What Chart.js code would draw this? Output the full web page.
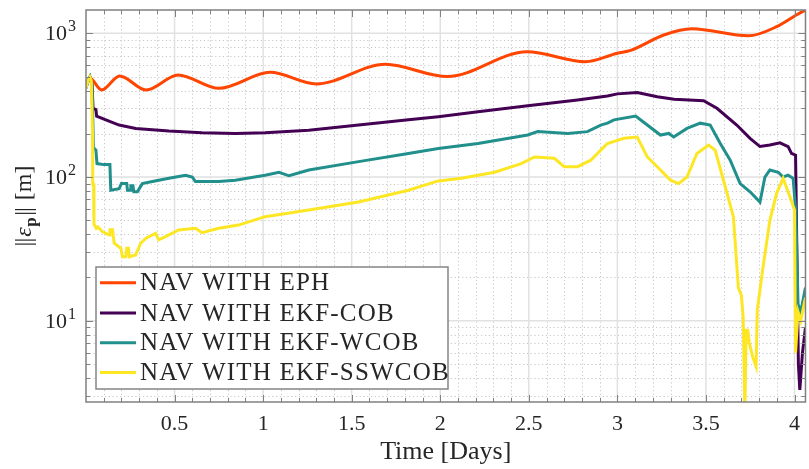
<!DOCTYPE html>
<html>
<head>
<meta charset="utf-8">
<script src="https://cdn.jsdelivr.net/npm/chart.js@4.4.1/dist/chart.umd.min.js"></script>
<style>
  html, body { margin: 0; padding: 0; background: #ffffff; }
  canvas { display: block; }
</style>
</head>
<body>
<canvas id="c" width="809" height="469"></canvas>
<script>
// Position error norm of the navigation solutions over time
const seriesNames = ['NAV WITH EPH', 'NAV WITH EKF-COB', 'NAV WITH EKF-WCOB', 'NAV WITH EKF-SSWCOB'];
const seriesColors = ['#ff4500', '#440154', '#21908c', '#fde725'];

// Time [days] / error [m] for the ephemeris-only solution
const ephT = [0, 0.02, 0.088, 0.19, 0.34, 0.52, 0.75, 1.04, 1.30, 1.69, 2.04, 2.49, 2.82, 3.0, 3.075, 3.262, 3.42, 3.74, 3.899, 4.01, 4.062];
const ephV = [425, 490, 403, 505, 403, 513, 414, 535, 444, 608, 500, 745, 634, 727, 760, 973, 1075, 960, 1112, 1341, 1452];

// EKF with COB measurements
const cobT = [0, 0.012, 0.022, 0.034, 0.04, 0.056, 0.06, 0.112, 0.187, 0.281, 0.468, 0.655, 0.843, 1.011, 1.258, 1.539, 1.82, 1.989, 2.213, 2.494, 2.775, 2.944, 3.0, 3.112, 3.225, 3.32, 3.487, 3.562, 3.674, 3.749, 3.805, 3.861, 3.918, 3.964, 3.983, 4.006, 4.012, 4.022, 4.03, 4.045, 4.062];
const cobV = [416, 470, 497, 440, 300, 295, 265, 250, 230, 218, 209, 203, 201, 203, 212, 230, 250, 263, 285, 313, 344, 366, 379, 387, 362, 348, 340, 301, 230, 186, 163, 167, 173, 163, 146, 142, 40, 5, 3.3, 6, 9];

// EKF with weighted COB measurements
const wcobT = [0, 0.012, 0.022, 0.034, 0.042, 0.056, 0.062, 0.1, 0.135, 0.14, 0.187, 0.2, 0.23, 0.234, 0.25, 0.253, 0.265, 0.27, 0.29, 0.318, 0.375, 0.468, 0.562, 0.6, 0.618, 0.749, 0.843, 1.011, 1.09, 1.146, 1.258, 1.539, 1.82, 1.989, 2.213, 2.494, 2.55, 2.72, 2.831, 2.906, 2.944, 2.981, 3.103, 3.169, 3.243, 3.29, 3.318, 3.393, 3.468, 3.524, 3.581, 3.637, 3.693, 3.749, 3.805, 3.833, 3.861, 3.908, 3.936, 3.964, 3.992, 4.007, 4.02, 4.035, 4.062];
const wcobV = [416, 470, 497, 440, 160, 154, 124, 122, 122, 81, 83, 90, 90, 81, 81, 87, 87, 79, 79, 90, 93, 98, 103, 100, 93, 93, 95, 103, 108, 102, 112, 128, 146, 158, 171, 196, 207, 201, 207, 230, 237, 250, 266, 230, 196, 201, 190, 218, 237, 230, 171, 131, 90, 79, 67, 100, 112, 108, 100, 103, 98, 59, 13, 11.5, 17];

// EKF with sun-synchronous weighted COB measurements
const sswcobT = [0, 0.012, 0.022, 0.03, 0.037, 0.038, 0.043, 0.045, 0.058, 0.066, 0.094, 0.131, 0.135, 0.15, 0.159, 0.197, 0.206, 0.225, 0.23, 0.24, 0.245, 0.28, 0.309, 0.337, 0.393, 0.41, 0.449, 0.524, 0.618, 0.655, 0.749, 0.861, 1.011, 1.258, 1.539, 1.82, 1.989, 2.12, 2.307, 2.457, 2.532, 2.644, 2.7, 2.775, 2.85, 2.906, 2.944, 3.037, 3.112, 3.169, 3.225, 3.262, 3.3, 3.346, 3.393, 3.449, 3.515, 3.552, 3.599, 3.655, 3.683, 3.70, 3.71, 3.72, 3.727, 3.736, 3.745, 3.764, 3.783, 3.79, 3.82, 3.861, 3.899, 3.936, 3.974, 4.0, 4.006, 4.02, 4.035, 4.062];
const sswcobV = [416, 470, 497, 470, 200, 89, 89, 47, 44, 45, 41.6, 39.5, 43, 43, 34.6, 31.9, 27.9, 27.9, 31.9, 31.9, 27.9, 28.7, 34.6, 37.4, 40.6, 36.6, 38.5, 42.8, 44, 41, 44, 46.3, 53, 59, 67, 81, 94, 98, 108, 124, 138, 135, 118, 118, 131, 154, 171, 186, 190, 138, 118, 106, 95, 90, 100, 146, 167, 154, 95, 53, 17, 15, 10.7, 2.3, 8.6, 8.6, 7, 5.6, 4.8, 11.9, 22.5, 50, 77, 98, 73, 59, 6, 11.5, 10, 14.5];

// Axis limits and labelled ticks
const xMin = 0, xMax = 4.062;
const yMin = 2.72, yMax = 1453;
const xLabelTicks = [0.5, 1, 1.5, 2, 2.5, 3, 3.5, 4];
const yLabelExps = [1, 2, 3];

const FONT = '"Liberation Serif", "Times New Roman", serif';
const TEXT = '#262626';

const toPoints = (t, v) => t.map((ti, i) => ({ x: ti, y: v[i] }));
const seriesData = [toPoints(ephT, ephV), toPoints(cobT, cobV), toPoints(wcobT, wcobV), toPoints(sswcobT, sswcobV)];

// MATLAB-like frame: grid, inward ticks, box, y labels, y title and legend
const matlabFrame = {
  id: 'matlabFrame',
  beforeDatasetsDraw(chart) {
    const { ctx, chartArea: a, scales: { x, y } } = chart;
    ctx.save();
    // minor dotted grid
    ctx.strokeStyle = '#c8c8c8';
    ctx.lineWidth = 1;
    ctx.setLineDash([1.2, 2.6]);
    for (let k = 1; k * 0.1 < xMax; k++) {
      if (k % 5 === 0) continue;
      const px = Math.round(x.getPixelForValue(k * 0.1)) + 0.5;
      ctx.beginPath(); ctx.moveTo(px, a.top); ctx.lineTo(px, a.bottom); ctx.stroke();
    }
    for (let d = 0; d <= 3; d++) {
      for (let m = 2; m <= 9; m++) {
        const v = m * Math.pow(10, d);
        if (v <= yMin || v >= yMax) continue;
        const py = Math.round(y.getPixelForValue(v)) + 0.5;
        ctx.beginPath(); ctx.moveTo(a.left, py); ctx.lineTo(a.right, py); ctx.stroke();
      }
    }
    // major solid grid
    ctx.setLineDash([]);
    ctx.strokeStyle = '#e1e1e1';
    ctx.lineWidth = 1.5;
    xLabelTicks.forEach(v => {
      const px = x.getPixelForValue(v);
      ctx.beginPath(); ctx.moveTo(px, a.top); ctx.lineTo(px, a.bottom); ctx.stroke();
    });
    yLabelExps.forEach(e => {
      const py = y.getPixelForValue(Math.pow(10, e));
      ctx.beginPath(); ctx.moveTo(a.left, py); ctx.lineTo(a.right, py); ctx.stroke();
    });
    ctx.restore();
  },
  afterDatasetsDraw(chart) {
    const { ctx, chartArea: a, scales: { x, y } } = chart;
    ctx.save();
    ctx.strokeStyle = '#808080';
    ctx.lineWidth = 1.5;
    // box
    ctx.strokeRect(a.left, a.top, a.right - a.left, a.bottom - a.top);
    // inward ticks on x (bottom and top)
    ctx.lineWidth = 1;
    for (let k = 1; k * 0.1 < xMax; k++) {
      const len = (k % 5 === 0) ? 7 : 4;
      const px = Math.round(x.getPixelForValue(k * 0.1)) + 0.5;
      ctx.beginPath();
      ctx.moveTo(px, a.bottom); ctx.lineTo(px, a.bottom - len);
      ctx.moveTo(px, a.top); ctx.lineTo(px, a.top + len);
      ctx.stroke();
    }
    // inward ticks on y (left and right)
    for (let d = 0; d <= 3; d++) {
      for (let m = 1; m <= 9; m++) {
        const v = m * Math.pow(10, d);
        if (v <= yMin || v >= yMax) continue;
        const len = (m === 1) ? 7 : 4;
        const py = Math.round(y.getPixelForValue(v)) + 0.5;
        ctx.beginPath();
        ctx.moveTo(a.left, py); ctx.lineTo(a.left + len, py);
        ctx.moveTo(a.right, py); ctx.lineTo(a.right - len, py);
        ctx.stroke();
      }
    }
    ctx.restore();
  },
  afterDraw(chart) {
    const { ctx, chartArea: a, scales: { y } } = chart;
    ctx.save();
    ctx.fillStyle = TEXT;
    // y tick labels as powers of ten
    yLabelExps.forEach(e => {
      const py = y.getPixelForValue(Math.pow(10, e));
      ctx.font = '22px ' + FONT;
      ctx.textAlign = 'right';
      ctx.textBaseline = 'alphabetic';
      ctx.fillText('10', 67, py + 7);
      ctx.font = '16px ' + FONT;
      ctx.textAlign = 'left';
      ctx.fillText(String(e), 68, py - 2);
    });

    // y axis title ||ε_p|| [m], rotated
    ctx.save();
    const cy = (a.top + a.bottom) / 2;
    ctx.translate(31, cy);
    ctx.rotate(-Math.PI / 2);
    ctx.textAlign = 'left';
    ctx.textBaseline = 'alphabetic';
    const parts = [
      { t: '|', f: '24px ' + FONT, dy: 0, gap: -1 },
      { t: '|', f: '24px ' + FONT, dy: 0, gap: 1 },
      { t: 'ε', f: 'italic 24px ' + FONT, dy: 0, gap: 0.5 },
      { t: 'p', f: 'bold 17px ' + FONT, dy: 5, gap: 1.5 },
      { t: '|', f: '24px ' + FONT, dy: 0, gap: -1 },
      { t: '|', f: '24px ' + FONT, dy: 0, gap: 7 },
      { t: '[m]', f: '24px ' + FONT, dy: 0, gap: 0 }
    ];
    let total = 0;
    parts.forEach(p => { ctx.font = p.f; p.w = ctx.measureText(p.t).width; total += p.w + p.gap; });
    let tx = -total / 2;
    parts.forEach(p => { ctx.font = p.f; ctx.fillText(p.t, tx, p.dy); tx += p.w + p.gap; });
    ctx.restore();

    // legend
    const lx = 96, ly = 267, lw = 352, lh = 122;
    ctx.fillStyle = '#ffffff';
    ctx.fillRect(lx, ly, lw, lh);
    ctx.strokeStyle = '#858585';
    ctx.lineWidth = 1.5;
    ctx.strokeRect(lx, ly, lw, lh);
    const rowY = [282.7, 313, 342.7, 372.5];
    chart.data.datasets.forEach((ds, i) => {
      ctx.strokeStyle = ds.borderColor;
      ctx.lineWidth = 3;
      ctx.beginPath();
      ctx.moveTo(100, rowY[i]);
      ctx.lineTo(136, rowY[i]);
      ctx.stroke();
      ctx.fillStyle = TEXT;
      ctx.font = '25px ' + FONT;
      if ('letterSpacing' in ctx) ctx.letterSpacing = '1.2px';
      ctx.textAlign = 'left';
      ctx.textBaseline = 'middle';
      ctx.fillText(ds.label, 140, rowY[i] + 1);
      if ('letterSpacing' in ctx) ctx.letterSpacing = '0px';
    });
    ctx.restore();
  }
};

const drawOrder = [3, 2, 1, 0];
new Chart(document.getElementById('c'), {
  type: 'line',
  data: {
    datasets: seriesNames.map((name, i) => ({
      label: name,
      data: seriesData[i],
      borderColor: seriesColors[i],
      backgroundColor: seriesColors[i],
      borderWidth: 3,
      pointRadius: 0,
      tension: 0,
      cubicInterpolationMode: i === 0 ? 'monotone' : 'default',
      order: drawOrder[i]
    }))
  },
  options: {
    responsive: false,
    animation: false,
    devicePixelRatio: 1,
    layout: { padding: { top: 10, right: 0, left: 0, bottom: 0 } },
    plugins: { legend: { display: false }, tooltip: { enabled: false } },
    scales: {
      x: {
        type: 'linear',
        min: xMin,
        max: xMax,
        afterFit(scale) { scale.height = 67; },
        grid: { display: false, drawTicks: false },
        border: { display: false },
        ticks: {
          stepSize: 0.5,
          includeBounds: false,
          autoSkip: false,
          maxRotation: 0,
          padding: 9,
          color: TEXT,
          font: { family: FONT, size: 22 },
          callback(v) {
            return xLabelTicks.some(t => Math.abs(t - v) < 1e-9) ? String(+v.toFixed(1)) : '';
          }
        },
        title: {
          display: true,
          text: 'Time [Days]',
          color: TEXT,
          font: { family: FONT, size: 26 },
          padding: { top: 0, bottom: 1 }
        }
      },
      y: {
        type: 'logarithmic',
        min: yMin,
        max: yMax,
        afterFit(scale) { scale.width = 86; },
        grid: { display: false, drawTicks: false },
        border: { display: false },
        ticks: { display: false }
      }
    }
  },
  plugins: [matlabFrame]
});
</script>
</body>
</html>
